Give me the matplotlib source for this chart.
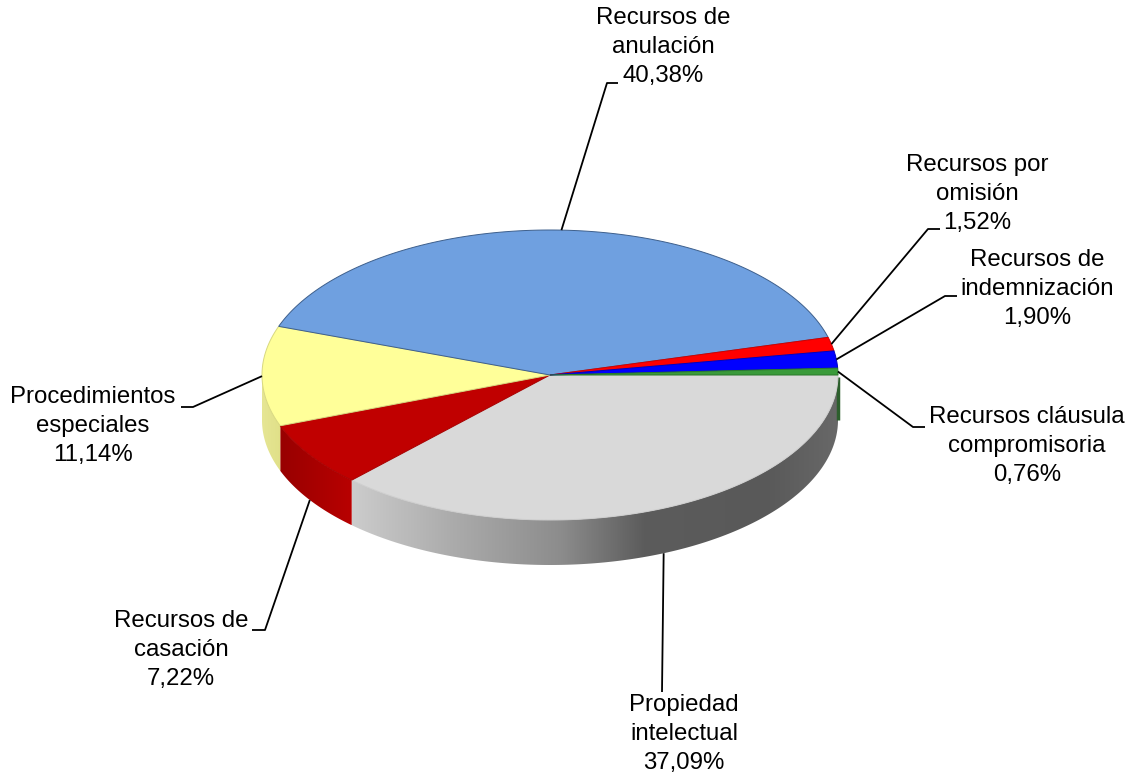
import numpy as np
import matplotlib.pyplot as plt
from matplotlib.patches import Polygon
from matplotlib.colors import LinearSegmentedColormap

labels = ['Propiedad\nintelectual', 'Recursos de\ncasación', 'Procedimientos\nespeciales',
          'Recursos de\nanulación', 'Recursos por\nomisión', 'Recursos de\nindemnización',
          'Recursos cláusula\ncompromisoria']
shares = [37.09, 7.22, 11.14, 40.38, 1.52, 1.90, 0.76]

top_colors = ['#d9d9d9', '#c00000', '#ffff99', '#6fa0e0', '#ff0000', '#0000ff', '#3a9a3a']
edge_colors = ['#cdcdcd', '#a80000', '#d8d880', '#3d5f8c', '#d00000', '#0000c0', '#2a7a2a']
# wall shading, left to right
side_ramps = [
    [(0.0, '#cccccc'), (0.2, '#acacac'), (0.43, '#8c8c8c'),
     (0.6, '#5c5c5c'), (0.85, '#595959'), (1.0, '#686868')],
    [(0.0, '#980000'), (1.0, '#b80000')],
    [(0.0, '#e6e694'), (1.0, '#e0e088')],
    [(0.0, '#5a86c0'), (1.0, '#5a86c0')],
    [(0.0, '#c00000'), (1.0, '#c00000')],
    [(0.0, '#0000b0'), (1.0, '#0000b0')],
    [(0.0, '#2d5f2d'), (1.0, '#2d5f2d')],
]

# label block centres, leader elbows and the short horizontal tails (pixels)
label_xy = [(684, 734), (181, 650), (93, 426), (663, 47), (977, 194), (1037, 289), (1027, 446)]
elbow_xy = [(662, 692), (265, 630), (193, 407), (607, 83), (928, 229), (945, 296), (913, 427)]
tail_dx = [0, -13, -12, 11, 12, 12, 12]

W, H = 1134, 776
cx, cy, rx, ry, depth = 550, 375, 288, 145, 45

fig = plt.figure(figsize=(W / 100, H / 100), dpi=100)
ax = fig.add_axes([0, 0, 1, 1])
ax.set_axis_off()


def arc(a0, a1, dy=0, n=200):
    t = np.radians(np.linspace(a0, a1, n))
    return np.column_stack([cx + rx * np.cos(t), cy + ry * np.sin(t) + dy])


# slice boundaries, clockwise from 3 o'clock (screen y points down)
bounds = np.concatenate([[0], np.cumsum(shares)]) / sum(shares) * 360

# side walls on the front half, filled with a horizontal ramp
for i in range(len(shares)):
    a0, a1 = max(bounds[i], 0), min(bounds[i + 1], 180)
    if a1 <= a0:
        continue
    pts = np.vstack([arc(a0, a1), arc(a0, a1, depth)[::-1]])
    wall = Polygon(pts, closed=True, facecolor='none', edgecolor='none')
    ax.add_patch(wall)
    cmap = LinearSegmentedColormap.from_list(f'wall{i}', side_ramps[i])
    grad = np.linspace(0, 1, 256)[None, :]
    im = ax.imshow(grad, extent=(pts[:, 0].min(), pts[:, 0].max(),
                                 pts[:, 1].max(), pts[:, 1].min()),
                   aspect='auto', cmap=cmap, zorder=1, interpolation='bilinear')
    im.set_clip_path(wall)

# the thin green slice shows as a sliver on the right rim
ax.plot([cx + rx, cx + rx], [cy + 2, cy + depth], color=side_ramps[-1][0][1],
        lw=2.5, zorder=1.5, solid_capstyle='butt')

# top faces
for i in range(len(shares)):
    pts = np.vstack([[cx, cy], arc(bounds[i], bounds[i + 1])])
    ax.add_patch(Polygon(pts, closed=True, facecolor=top_colors[i],
                         edgecolor=edge_colors[i], lw=0.7, zorder=2))

# labels with leader lines
for i, v in enumerate(shares):
    mid = np.radians((bounds[i] + bounds[i + 1]) / 2)
    px = cx + rx * np.cos(mid)
    py = cy + ry * np.sin(mid)
    if np.sin(mid) > 0.3:
        py += depth
    ex, ey = elbow_xy[i]
    ax.plot([px, ex, ex + tail_dx[i]], [py, ey, ey], color='black', lw=1.3,
            zorder=3, solid_capstyle='butt')
    txt = labels[i] + '\n' + f'{v:.2f}'.replace('.', ',') + '%'
    ax.text(label_xy[i][0], label_xy[i][1], txt, ha='center', va='center',
            multialignment='center', fontsize=17.3, family='Liberation Sans',
            linespacing=1.4, zorder=4)

ax.set_xlim(0, W)
ax.set_ylim(H, 0)
fig.savefig('out.png', dpi=100, facecolor='white')
